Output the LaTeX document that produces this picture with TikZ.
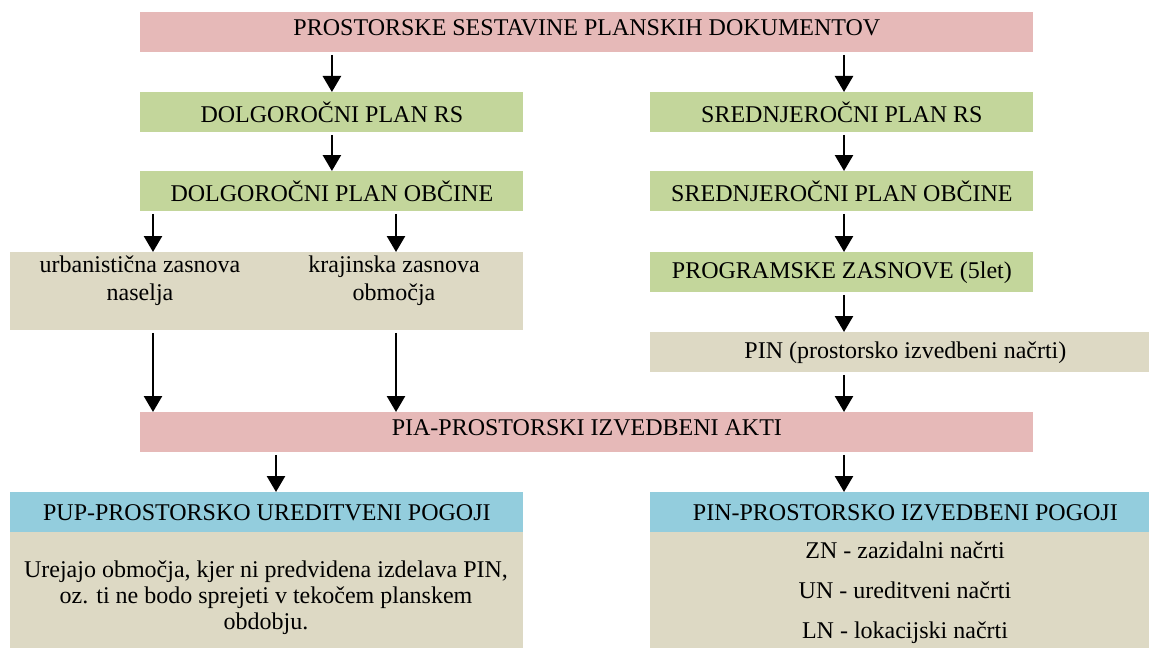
\documentclass[tikz,border=0pt]{standalone}
\usepackage{fontspec}
\setmainfont{Liberation Serif}
\usetikzlibrary{positioning, arrows.meta}
\definecolor{pinkfill}{HTML}{E6B9B8}
\definecolor{greenfill}{HTML}{C3D69B}
\definecolor{tanfill}{HTML}{DDD9C4}
\definecolor{bluefill}{HTML}{93CDDD}

\begin{document}
\begin{tikzpicture}[x=0.5pt, y=-0.5pt, font=\fontsize{12}{14}\selectfont,
  box/.style={fill=#1, anchor=north west, inner sep=0pt, align=center, minimum height=20pt},
  pinkbox/.style={box=pinkfill, minimum width=446.5pt, text depth=5pt},
  greenbox/.style={box=greenfill, minimum width=191.5pt},
  arr/.style={-{Triangle[width=9pt,length=8pt]}, line width=1.3pt, shorten <=1pt},
]
  \clip (0,0) rectangle (1149,647);
  \fill[white] (0,0) rectangle (1149,647);

  % columns of the connectors
  \coordinate (colA) at (153,0);
  \coordinate (colB) at (396,0);
  \coordinate (colC) at (276,0);
  \coordinate (colD) at (844,0);

  \node[pinkbox] (plan) at (140,12) {PROSTORSKE SESTAVINE PLANSKIH DOKUMENTOV};
  \node[greenbox] (dolgrs) at (140,92) {DOLGORO\v{C}NI PLAN RS};
  \node[greenbox] (sredrs) at (650,92) {SREDNJERO\v{C}NI PLAN RS};
  \node[greenbox] (dolgobc) at (140,171) {DOLGORO\v{C}NI PLAN OB\v{C}INE};
  \node[greenbox] (sredobc) at (650,171) {SREDNJERO\v{C}NI PLAN OB\v{C}INE};
  \node[greenbox] (prog) at (650,252) {PROGRAMSKE ZASNOVE (5let)};

  \node[box=tanfill, minimum width=256.5pt, minimum height=39pt] (zasnove) at (10,252) {};
  \node[align=center] (urb) at (140,281) {urbanisti\v{c}na zasnova\\naselja};
  \node[align=center] (kraj) at (394,281) {krajinska zasnova\\obmo\v{c}ja};

  \node[box=tanfill, minimum width=255pt] (pin) at (650,332) {PIN (prostorsko izvedbeni na\v{c}rti)};
  \node[pinkbox] (pia) at (140,412) {PIA-PROSTORSKI IZVEDBENI AKTI};

  \node[box=bluefill, minimum width=256.5pt] (pup) at (10,492) {PUP-PROSTORSKO UREDITVENI POGOJI};
  \node[box=tanfill, minimum width=256.5pt, minimum height=60pt] (pupbody) at (10,532) {};
  \node[align=center, font=\fontsize{12}{13}\selectfont] (puptext) at (266,598)
    {Urejajo obmo\v{c}ja, kjer ni predvidena izdelava PIN,\\oz. ti ne bodo sprejeti v teko\v{c}em planskem\\obdobju.};

  \node[box=bluefill, minimum width=255pt] (pinpog) at (650,492) {PIN-PROSTORSKO IZVEDBENI POGOJI};
  \node[box=tanfill, minimum width=255pt, minimum height=60pt] (pinbody) at (650,532) {};
  \node[align=center, font=\fontsize{12}{20}\selectfont] (pintext) at (905,593)
    {ZN - zazidalni na\v{c}rti\\UN - ureditveni na\v{c}rti\\LN - lokacijski na\v{c}rti};

  \draw[arr] (plan.south -| dolgrs) -- (dolgrs.north);
  \draw[arr] (plan.south -| colD) -- (sredrs.north -| colD);
  \draw[arr] (dolgrs) -- (dolgobc);
  \draw[arr] (sredrs.south -| colD) -- (sredobc.north -| colD);
  \draw[arr] (dolgobc.south -| colA) -- (zasnove.north -| colA);
  \draw[arr] (dolgobc.south -| colB) -- (zasnove.north -| colB);
  \draw[arr] (sredobc.south -| colD) -- (prog.north -| colD);
  \draw[arr] (prog.south -| colD) -- (pin.north -| colD);
  \draw[arr] (zasnove.south -| colA) -- (pia.north -| colA);
  \draw[arr] (zasnove.south -| colB) -- (pia.north -| colB);
  \draw[arr] (pin.south -| colD) -- (pia.north -| colD);
  \draw[arr] (pia.south -| colC) -- (pup.north -| colC);
  \draw[arr] (pia.south -| colD) -- (pinpog.north -| colD);
\end{tikzpicture}
\end{document}
